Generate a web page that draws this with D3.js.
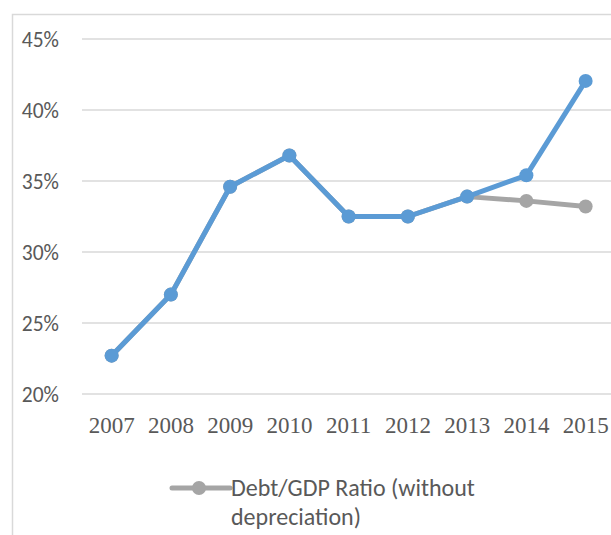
<!DOCTYPE html>
<html><head><meta charset="utf-8">
<script src="https://cdn.jsdelivr.net/npm/d3@7"></script>
<style>body{margin:0;background:#fff}svg{display:block}</style>
</head><body>
<svg id="c" width="611" height="535"></svg>
<script>
const years = ["2007","2008","2009","2010","2011","2012","2013","2014","2015"];
const withDep = [22.7, 27.0, 34.6, 36.8, 32.5, 32.5, 33.9, 35.4, 42.05];
const withoutDep = [22.7, 27.0, 34.6, 36.8, 32.5, 32.5, 33.9, 33.6, 33.2];
const yTicks = [20, 25, 30, 35, 40, 45];
const legendLines = ["Debt/GDP Ratio (without", "depreciation)"];

const svg = d3.select("#c");
// chart border
svg.append("rect").attr("x",12.5).attr("y",14.5).attr("width",700).attr("height",600)
  .attr("fill","none").attr("stroke","#d9d9d9").attr("stroke-width",1.5);

const x = d3.scaleBand().domain(years).range([82, 615.25]);
const y = d3.scaleLinear().domain([20,45]).range([394, 39]);

// gridlines
svg.append("g").selectAll("line").data(yTicks).join("line")
  .attr("x1",82).attr("x2",615).attr("y1",d=>y(d)).attr("y2",d=>y(d))
  .attr("stroke","#d9d9d9").attr("stroke-width",1.3);

const sans = "Carlito, Lato, 'Open Sans', 'Liberation Sans', sans-serif";
const yAxis = d3.axisLeft(y).tickValues(yTicks).tickFormat(d=>d+"%").tickSize(0).tickPadding(0);
const ga = svg.append("g").attr("transform","translate(59,0)").call(yAxis);
ga.select(".domain").remove();
ga.selectAll("text").attr("font-family",sans)
  .attr("font-size",21.5).attr("fill","#595959").attr("dy","0.35em");

const xAxis = d3.axisBottom(x).tickSize(0).tickPadding(0);
const gx = svg.append("g").attr("transform","translate(0,425)").call(xAxis);
gx.select(".domain").remove();
gx.selectAll("text").attr("font-family","'Liberation Serif', 'DejaVu Serif', serif")
  .attr("font-size",23).attr("fill","#595959").attr("dy","0.35em");

const cx = d => x(d) + x.bandwidth()/2;
const line = d3.line().x((d,i)=>cx(years[i])).y(d=>y(d));

function series(vals, color){
  svg.append("path").datum(vals).attr("d",line).attr("fill","none")
    .attr("stroke",color).attr("stroke-width",5).attr("stroke-linejoin","round");
  svg.append("g").selectAll("circle").data(vals).join("circle")
    .attr("cx",(d,i)=>cx(years[i])).attr("cy",d=>y(d)).attr("r",7).attr("fill",color);
}
series(withoutDep, "#a5a5a5");
series(withDep, "#5b9bd5");

// legend
const lg = svg.append("g");
lg.append("line").attr("x1",172).attr("x2",230).attr("y1",488).attr("y2",488)
  .attr("stroke","#a5a5a5").attr("stroke-width",5).attr("stroke-linecap","round");
lg.append("circle").attr("cx",199).attr("cy",488).attr("r",7).attr("fill","#a5a5a5");
lg.selectAll("text").data(legendLines).join("text")
  .attr("x",231).attr("y",(d,i)=>496+i*29).text(d=>d)
  .attr("font-family",sans)
  .attr("font-size",24).attr("fill","#595959");
</script>
</body></html>
